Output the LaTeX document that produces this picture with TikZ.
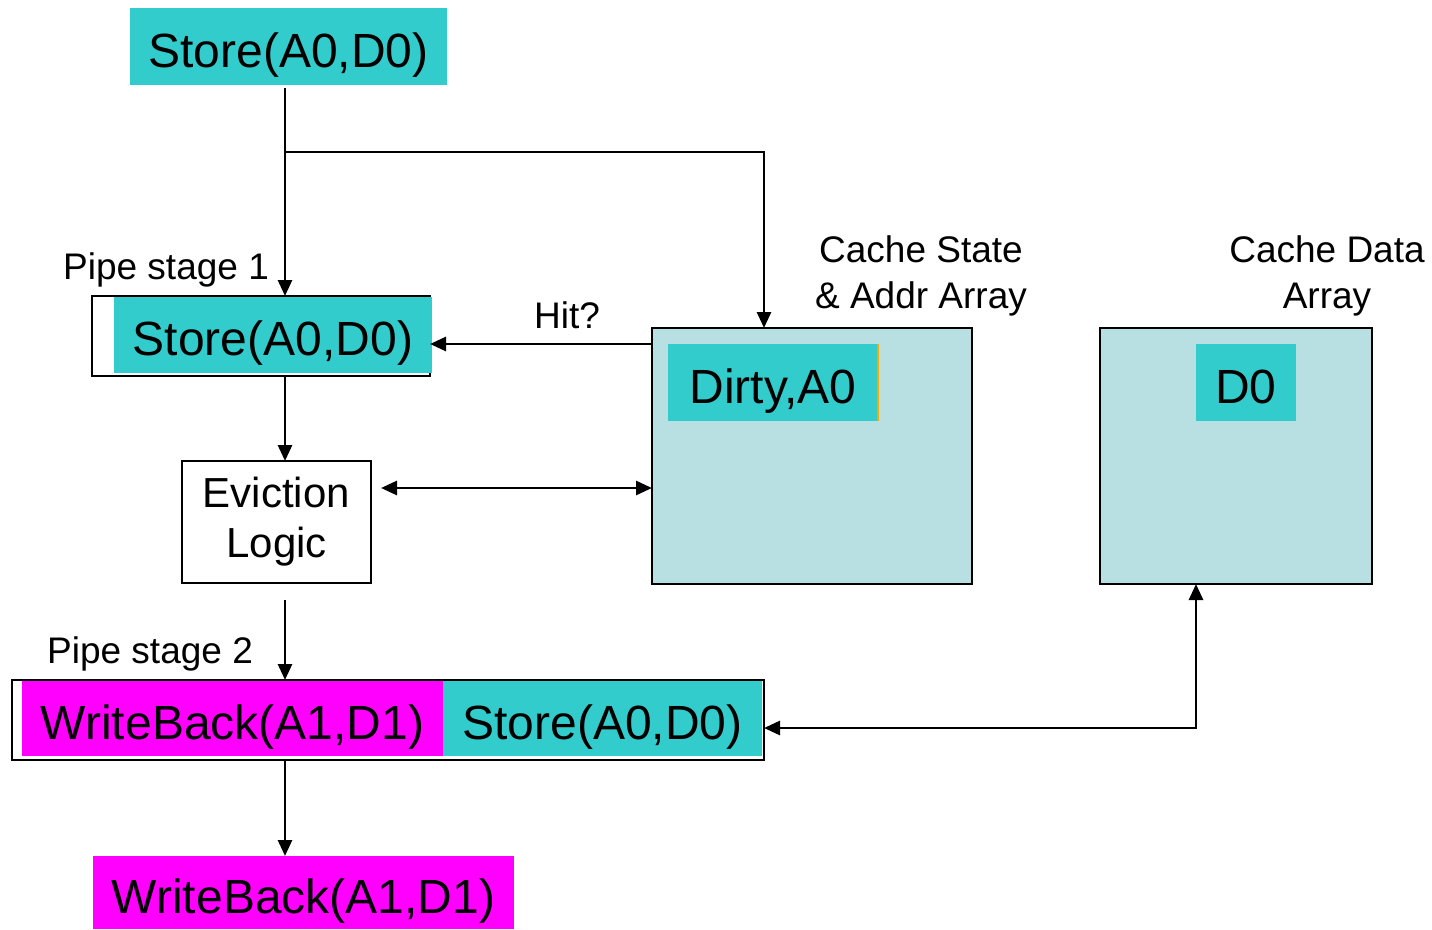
\documentclass[tikz,border=0pt]{standalone}
\usepackage{fontspec}
\setmainfont{Liberation Sans}
\usetikzlibrary{arrows.meta,calc}
\definecolor{stagecyan}{HTML}{33CCCC}
\definecolor{arraypale}{HTML}{B8E0E3}
\definecolor{wbmagenta}{HTML}{FF00FF}
\definecolor{edgeorange}{HTML}{FFA500}

\begin{document}
\begin{tikzpicture}[x=1pt,y=-1pt,
  blk/.style={anchor=north west, inner sep=0pt, outer sep=0pt},
  big/.style={font=\fontsize{48}{52}\selectfont, text height=41pt, text depth=0pt},
  frame/.style={draw=black, line width=2.2pt},
  lbl/.style={font=\fontsize{37}{46}\selectfont, align=center, inner sep=0pt},
  arr/.style={line width=2.8pt, -{Triangle[length=16pt,width=14pt]}},
  dbl/.style={line width=2.8pt, {Triangle[length=16pt,width=14pt]}-{Triangle[length=16pt,width=14pt]}}
]
\useasboundingbox (0,0) rectangle (1432,929);

% guide coordinates for the connectors
\coordinate (spine) at (285,0);
\coordinate (br) at (285,152);
\coordinate (csin) at (764,0);
\coordinate (hitrow) at (0,344);
\coordinate (evrow) at (0,488);
\coordinate (wbrow) at (0,728);
\coordinate (cdin) at (1196,0);

% incoming store
\node[blk, fill=stagecyan, minimum width=317pt, minimum height=77pt, big] (top) at (130,8) {Store(A0,D0)};

% pipe stage 1
\node[lbl, anchor=west] (ps1) at (63,270) {Pipe stage 1};
\node[blk, frame, minimum width=338pt, minimum height=80pt] (p1) at (92,296) {};
\node[blk, fill=stagecyan, minimum width=318pt, minimum height=76pt, big] (p1s) at (114,297) {Store(A0,D0)};

% eviction logic
\node[blk, frame, minimum width=189pt, minimum height=122pt, font=\fontsize{42}{50}\selectfont, align=center] (ev) at (182,461) {Eviction\\Logic};

% cache state & address array
\node[lbl] (cslbl) at (921,276) {Cache State\\\& Addr Array};
\node[blk, frame, fill=arraypale, minimum width=320pt, minimum height=256pt] (cs) at (652,328) {};
\node[blk, fill=stagecyan, minimum width=210pt, minimum height=77pt, big] (dirty) at (668,344) {Dirty,A0};
\draw[edgeorange, line width=2pt] (dirty.north east) -- (dirty.south east);

% cache data array
\node[lbl] (cdlbl) at (1327,276) {Cache Data\\Array};
\node[blk, frame, fill=arraypale, minimum width=272pt, minimum height=256pt] (cd) at (1100,328) {};
\node[blk, fill=stagecyan, minimum width=100pt, minimum height=77pt, big] (d0) at (1196,344) {D0};

% pipe stage 2
\node[lbl, anchor=west] (ps2) at (47,654) {Pipe stage 2};
\node[blk, frame, minimum width=752pt, minimum height=80pt] (p2) at (12,680) {};
\node[blk, fill=wbmagenta, minimum width=421pt, minimum height=75pt, big] (p2w) at (22,681) {WriteBack(A1,D1)};
\node[blk, fill=stagecyan, minimum width=319pt, minimum height=75pt, big] (p2s) at (443,681) {Store(A0,D0)};

% outgoing writeback
\node[blk, fill=wbmagenta, minimum width=421pt, minimum height=73pt, big] (wb) at (93,856) {WriteBack(A1,D1)};

% connectors
\draw[arr] ($(top.south -| spine)+(0,3)$) -- (p1.north -| spine);
\draw[arr] (br) -| (cs.north -| csin);
\draw[arr] (cs.west |- hitrow) -- (p1.east |- hitrow);
\node[lbl] (hit) at (567,315) {Hit?};
\draw[arr] (p1.south -| spine) -- (ev.north -| spine);
\draw[dbl] ($(ev.east |- evrow)+(10,0)$) -- (cs.west |- evrow);
\draw[arr] ($(ev.south -| spine)+(0,17)$) -- (p2.north -| spine);
\draw[dbl] (p2.east |- wbrow) -| (cd.south -| cdin);
\draw[arr] (p2.south -| spine) -- (wb.north -| spine);
\end{tikzpicture}
\end{document}
